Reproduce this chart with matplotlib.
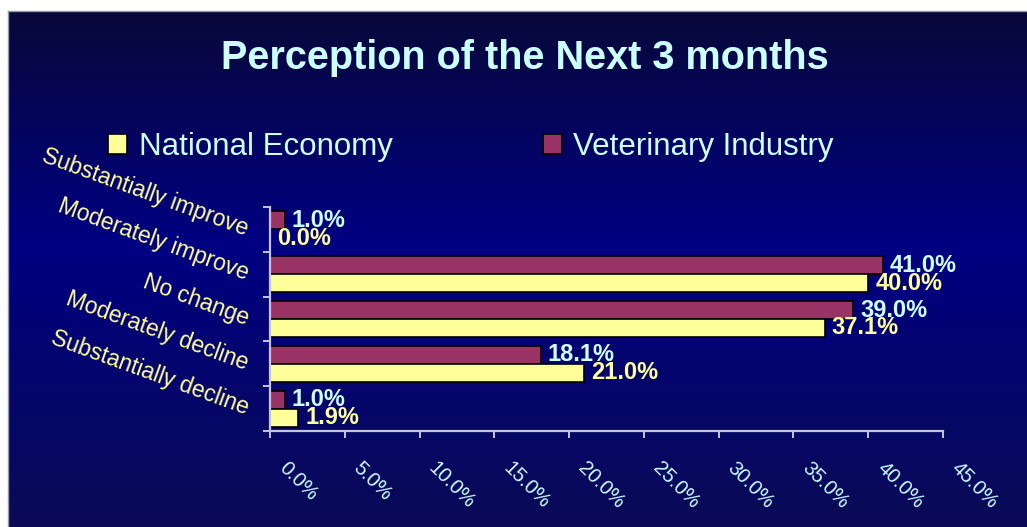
import numpy as np
import matplotlib.pyplot as plt
import matplotlib.transforms as mtransforms
from matplotlib.colors import LinearSegmentedColormap

plt.rcParams['font.family'] = ['Liberation Sans', 'DejaVu Sans']

# data
categories = ['Substantially improve', 'Moderately improve', 'No change',
              'Moderately decline', 'Substantially decline']
national = [0.0, 40.0, 37.1, 21.0, 1.9]
veterinary = [1.0, 41.0, 39.0, 18.1, 1.0]
xticks = [0, 5, 10, 15, 20, 25, 30, 35, 40, 45]

W, H = 1027, 527
fig = plt.figure(figsize=(W / 100, H / 100), dpi=100, facecolor='white')

# slide background: vertical navy gradient
bg = fig.add_axes([8 / W, 0, 1 - 8 / W, 1 - 11 / H])
cmap = LinearSegmentedColormap.from_list(
    'slide', [(0, '#08083a'), (0.45, '#000082'), (1, '#0a0a56')])
grad = np.linspace(0, 1, 256).reshape(-1, 1)
bg.imshow(grad, cmap=cmap, aspect='auto', extent=[0, 1, 0, 1], origin='upper')
bg.set_xticks([])
bg.set_yticks([])
for s in ['right', 'bottom']:
    bg.spines[s].set_visible(False)
for s in ['left', 'top']:
    bg.spines[s].set_color('#9a9a9a')
    bg.spines[s].set_linewidth(1)

ax = fig.add_axes([270 / W, 1 - 431 / H, (943 - 270) / W, (431 - 207) / H])
ax.set_facecolor('none')

y = np.arange(len(categories))
h = 0.4
b_vet = ax.barh(y - h / 2, veterinary, height=h, color='#993366',
                edgecolor='black', linewidth=1.2, label='Veterinary Industry')
b_nat = ax.barh(y + h / 2, national, height=h, color='#ffff99',
                edgecolor='black', linewidth=1.2, label='National Economy')

ax.bar_label(b_vet, fmt='{:.1f}%', padding=5, color='#ccffff',
             fontsize=17, fontweight='bold')
ax.bar_label(b_nat, fmt='{:.1f}%', padding=5, color='#ffff99',
             fontsize=17, fontweight='bold')

ax.set_xlim(0, 45)
ax.set_ylim(len(categories) - 0.5, -0.5)

axis_col = '#c4c4dc'
for s in ['top', 'right']:
    ax.spines[s].set_visible(False)
for s in ['left', 'bottom']:
    ax.spines[s].set_color(axis_col)
    ax.spines[s].set_linewidth(1.6)

# y axis: labels at category centers, ticks at boundaries
ax.set_yticks(y)
ax.set_yticklabels(categories)
ax.set_yticks(np.arange(-0.5, len(categories)), minor=True)
ax.tick_params(axis='y', which='major', length=0, pad=16)
ax.tick_params(axis='y', which='minor', length=5, width=1.4,
               color=axis_col, direction='out')
for lab in ax.get_yticklabels():
    lab.set_rotation(-20)
    lab.set_rotation_mode('anchor')
    lab.set_ha('right')
    lab.set_va('center')
    lab.set_color('#ffff99')
    lab.set_fontsize(16.5)

# x axis
ax.set_xticks(xticks)
ax.set_xticklabels(['{:.1f}%'.format(v) for v in xticks])
ax.tick_params(axis='x', length=5, width=1.4, color=axis_col,
               direction='out', pad=15)
shift = mtransforms.ScaledTranslation(5 / 100, 0, fig.dpi_scale_trans)
for lab in ax.get_xticklabels():
    lab.set_rotation(-45)
    lab.set_ha('left')
    lab.set_va('top')
    lab.set_color('#ccffff')
    lab.set_fontsize(14.5)
    lab.set_transform(lab.get_transform() + shift)

fig.text(525 / W, 1 - 58 / H, 'Perception of the Next 3 months',
         ha='center', va='center', color='#ccffff', fontsize=28.5,
         fontweight='bold')

fig.legend([b_nat, b_vet], ['National Economy', 'Veterinary Industry'],
           loc='center left', bbox_to_anchor=(108 / W, 1 - 147 / H),
           ncol=2, frameon=False, fontsize=22.5, labelcolor='#ccffff',
           handlelength=0.62, handleheight=0.62, handletextpad=0.36,
           columnspacing=4.8, borderpad=0, borderaxespad=0)

fig.savefig('out.png', dpi=100, facecolor='white')
